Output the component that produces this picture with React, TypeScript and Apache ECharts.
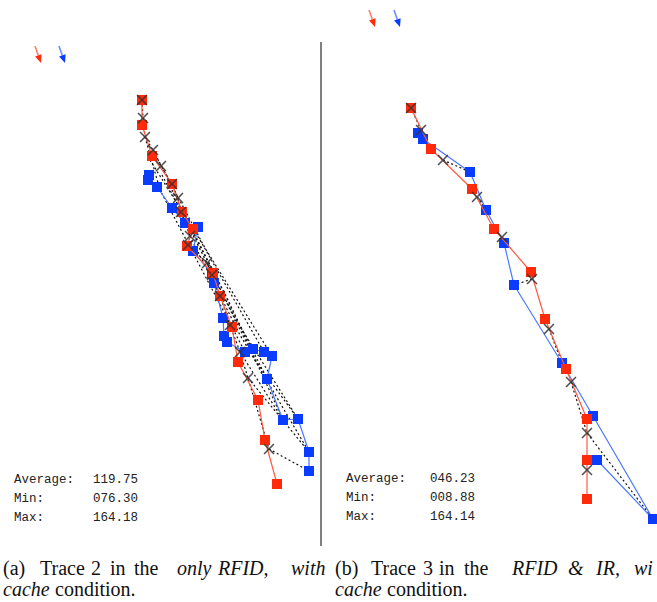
import React, { useEffect, useRef } from "react";
import * as echarts from "echarts";

// ---- Data (positions in the floor-plan coordinate frame of each panel) ----
const leftRed: number[][] = [
  [142, 100], [142, 125], [152, 156], [172, 184], [182, 212], [193, 229], [187, 246],
  [213, 273], [220, 296], [232, 327], [238, 362], [258, 400], [265, 440], [277, 484],
];
const leftBlue: number[][] = [
  [149, 175], [148, 180], [157, 187], [172, 208], [185, 223], [198, 227], [193, 251],
  [212, 274], [214, 283], [223, 318], [224, 336], [227, 342], [245, 352], [253, 349],
  [264, 352], [272, 356], [267, 379], [283, 420], [298, 419], [309, 452], [309, 471],
];
const leftEst: number[][] = [
  [142, 100], [143, 118], [145, 137], [153, 150], [161, 166], [172, 184], [178, 198],
  [181, 212], [190, 236], [188, 245], [207, 263], [212, 275], [220, 296], [230, 325],
  [240, 352], [248, 378], [269, 449],
];
const leftDotted: number[][][] = [
  [[142, 100], [143, 118], [145, 137], [153, 150], [161, 166], [172, 184], [178, 198], [181, 212], [190, 236], [188, 245], [207, 263], [212, 275], [220, 296], [230, 325], [240, 352], [248, 378], [269, 449], [309, 471]],
  [[145, 137], [160, 190], [245, 352]],
  [[150, 160], [200, 240], [264, 352]],
  [[153, 150], [205, 248], [272, 356]],
  [[162, 175], [215, 275], [267, 379]],
  [[172, 190], [228, 300], [283, 420]],
  [[181, 212], [236, 320], [298, 419]],
  [[190, 236], [240, 335], [309, 452]],
  [[207, 263], [255, 360], [298, 419]],
  [[240, 352], [283, 420]],
  [[248, 378], [309, 452]],
];

const rightRed: number[][] = [
  [411, 108], [431, 149], [472, 189], [494, 229], [531, 272], [545, 319], [566, 369],
  [587, 419], [587, 460], [587, 499],
];
const rightBlue: number[][] = [
  [418, 133], [423, 139], [470, 172], [486, 210], [504, 243], [514, 285], [562, 363],
  [593, 416], [653, 519], [597, 460],
];
const rightEst: number[][] = [
  [411, 108], [421, 130], [443, 160], [477, 197], [502, 237], [532, 279], [549, 329],
  [571, 382], [587, 433], [587, 470],
];
const rightDotted: number[][][] = [
  [[411, 108], [421, 130]],
  [[443, 160], [470, 172]],
  [[477, 197], [486, 210]],
  [[532, 279], [514, 285]],
  [[549, 329], [562, 363]],
  [[571, 382], [587, 433], [653, 519]],
];

const leftStats: string[][] = [["Average:", "119.75"], ["Min:", "076.30"], ["Max:", "164.18"]];
const rightStats: string[][] = [["Average:", "046.23"], ["Min:", "008.88"], ["Max:", "164.14"]];

const RED = "#ff2a0a";
const RED_LINE = "#ff5a40";
const BLUE = "#0a3cff";
const BLUE_LINE = "#4a78ff";
const X_SYMBOL =
  "path://M0,1 L1,0 L5,4 L9,0 L10,1 L6,5 L10,9 L9,10 L5,6 L1,10 L0,9 L4,5 Z";

function makeArrow(x1: number, y1: number, x2: number, y2: number, color: string) {
  const dx = x2 - x1;
  const dy = y2 - y1;
  const len = Math.sqrt(dx * dx + dy * dy);
  const ux = dx / len;
  const uy = dy / len;
  const hl = 8;
  const hw = 3.5;
  const bx = x2 - ux * hl;
  const by = y2 - uy * hl;
  return {
    type: "group",
    children: [
      {
        type: "line",
        shape: { x1, y1, x2: bx, y2: by },
        style: { stroke: color, lineWidth: 1.6, opacity: 0.6 },
      },
      {
        type: "polygon",
        shape: {
          points: [
            [x2, y2],
            [bx - uy * hw, by + ux * hw],
            [bx + uy * hw, by - ux * hw],
          ],
        },
        style: { fill: color },
      },
    ],
  };
}

function statsTexts(stats: string[][], xl: number, xv: number, y0: number) {
  const out: any[] = [];
  stats.forEach((row, i) => {
    const y = y0 + i * 19;
    out.push({
      type: "text",
      x: xl,
      y,
      style: { text: row[0], font: "12.5px 'Liberation Mono', monospace", fill: "#222", textVerticalAlign: "middle" },
    });
    out.push({
      type: "text",
      x: xv,
      y,
      style: { text: row[1], font: "12.5px 'Liberation Mono', monospace", fill: "#222", textVerticalAlign: "middle" },
    });
  });
  return out;
}

const captionWords: { t: string; x: number; y: number; it?: boolean }[] = [
  { t: "(a)", x: 3, y: 568 },
  { t: "Trace", x: 40, y: 568 },
  { t: "2", x: 91, y: 568 },
  { t: "in", x: 110, y: 568 },
  { t: "the", x: 134, y: 568 },
  { t: "only", x: 177, y: 568, it: true },
  { t: "RFID,", x: 218, y: 568, it: true },
  { t: "with", x: 291, y: 568, it: true },
  { t: "cache", x: 3, y: 589, it: true },
  { t: "condition.", x: 55, y: 589 },
  { t: "(b)", x: 335, y: 568 },
  { t: "Trace", x: 371, y: 568 },
  { t: "3", x: 423, y: 568 },
  { t: "in", x: 439, y: 568 },
  { t: "the", x: 464, y: 568 },
  { t: "RFID", x: 512, y: 568, it: true },
  { t: "&", x: 568, y: 568, it: true },
  { t: "IR,", x: 596, y: 568, it: true },
  { t: "wi", x: 634, y: 568, it: true },
  { t: "cache", x: 335, y: 589, it: true },
  { t: "condition.", x: 387, y: 589 },
];

function dottedSeries(segs: number[][][], idx: number) {
  return segs.map((s) => ({
    type: "line",
    xAxisIndex: idx,
    yAxisIndex: idx,
    data: s,
    symbol: "none",
    lineStyle: { color: "#111", width: 1.2, type: [2, 2.5] },
    z: 1,
    silent: true,
  }));
}

function traceSeries(red: number[][], blue: number[][], est: number[][], idx: number) {
  return [
    {
      type: "line",
      xAxisIndex: idx,
      yAxisIndex: idx,
      data: blue,
      symbol: "rect",
      symbolSize: 10,
      itemStyle: { color: BLUE },
      lineStyle: { color: BLUE_LINE, width: 1.2 },
      z: 2,
    },
    {
      type: "line",
      xAxisIndex: idx,
      yAxisIndex: idx,
      data: red,
      symbol: "rect",
      symbolSize: 10,
      itemStyle: { color: RED },
      lineStyle: { color: RED_LINE, width: 1.2 },
      z: 3,
    },
    {
      type: "scatter",
      xAxisIndex: idx,
      yAxisIndex: idx,
      data: est,
      symbol: X_SYMBOL,
      symbolSize: 11,
      itemStyle: { color: "#333", opacity: 0.85 },
      z: 4,
    },
  ];
}

export default function App() {
  const ref = useRef<HTMLDivElement>(null);
  useEffect(() => {
    if (!ref.current) return;
    const chart = echarts.init(ref.current, undefined, { renderer: "svg" });
    const graphics: any[] = [
      {
        type: "line",
        shape: { x1: 321, y1: 42, x2: 321, y2: 546 },
        style: { stroke: "#555", lineWidth: 1.5 },
      },
      makeArrow(35, 46, 41, 63, RED),
      makeArrow(59, 46, 65, 63, BLUE),
      makeArrow(369, 10, 375, 27, RED),
      makeArrow(394, 10, 400, 27, BLUE),
      ...statsTexts(leftStats, 14, 93, 480),
      ...statsTexts(rightStats, 346, 430, 479),
      ...captionWords.map((w) => ({
        type: "text",
        x: w.x,
        y: w.y,
        style: {
          text: w.t,
          font: (w.it ? "italic " : "") + "20px 'Liberation Serif', 'Times New Roman', serif",
          fill: "#111",
          textVerticalAlign: "middle",
        },
      })),
    ];
    chart.setOption({
      animation: false,
      backgroundColor: "#fff",
      grid: [
        { left: 0, top: 0, width: 321, height: 602 },
        { left: 321, top: 0, width: 336, height: 602 },
      ],
      xAxis: [
        { type: "value", gridIndex: 0, min: 0, max: 321, show: false },
        { type: "value", gridIndex: 1, min: 321, max: 657, show: false },
      ],
      yAxis: [
        { type: "value", gridIndex: 0, min: 0, max: 602, inverse: true, show: false },
        { type: "value", gridIndex: 1, min: 0, max: 602, inverse: true, show: false },
      ],
      series: [
        ...dottedSeries(leftDotted, 0),
        ...traceSeries(leftRed, leftBlue, leftEst, 0),
        ...dottedSeries(rightDotted, 1),
        ...traceSeries(rightRed, rightBlue, rightEst, 1),
      ],
      graphic: graphics,
    });
    return () => chart.dispose();
  }, []);
  return (
    <div
      ref={ref}
      style={{ position: "absolute", left: 0, top: 0, width: 657, height: 602 }}
    />
  );
}
